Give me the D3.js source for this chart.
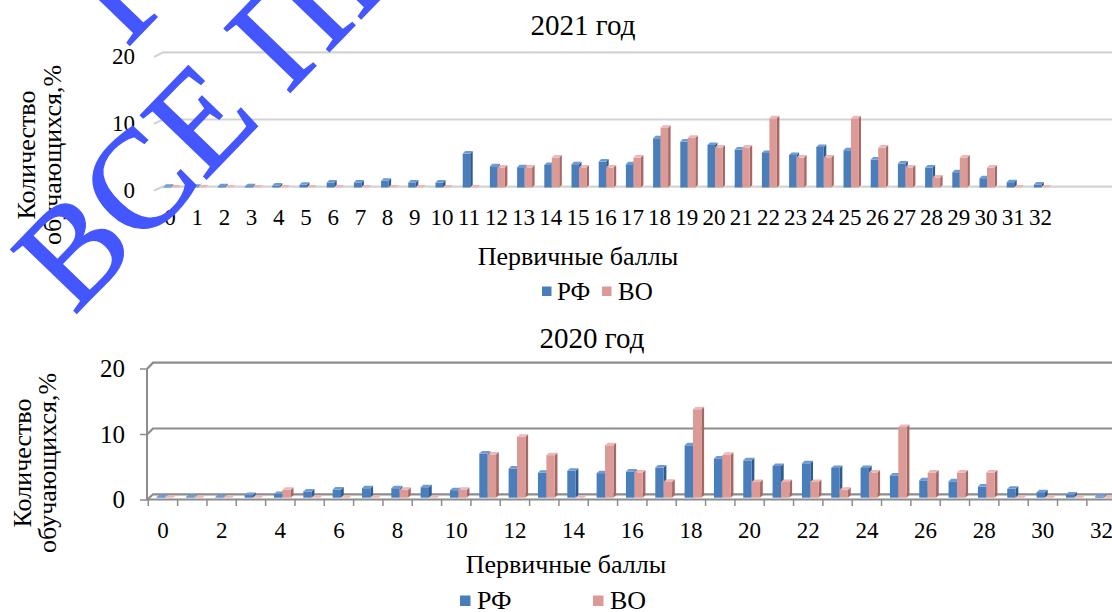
<!DOCTYPE html>
<html><head><meta charset="utf-8">
<script src="https://cdn.jsdelivr.net/npm/d3@7"></script>
<style>
html,body{margin:0;padding:0;background:#fff;}
svg{display:block;}
text{font-family:'Liberation Serif','Times New Roman','DejaVu Serif',serif;}
</style></head>
<body>
<svg id="c" width="1112" height="612" font-family="Liberation Serif, Times New Roman, DejaVu Serif, serif"></svg>
<script>
// ---- data ----
const categories = [0,1,2,3,4,5,6,7,8,9,10,11,12,13,14,15,16,17,18,19,20,21,22,23,24,25,26,27,28,29,30,31,32];
const seriesNames = ["РФ", "ВО"];
const rf2021 = [0.1,0.1,0.2,0.2,0.3,0.4,0.75,0.75,1.0,0.75,0.75,5.1,3.2,3.05,3.4,3.5,3.9,3.5,7.4,6.9,6.4,5.7,5.2,4.9,6.1,5.6,4.2,3.6,3.0,2.3,1.4,0.8,0.45];
const vo2021 = [0,0,0,0,0,0,0,0,0,0,0,0,3.0,3.0,4.5,3.0,3.0,4.5,9.0,7.5,6.0,6.0,10.4,4.5,4.5,10.4,6.0,3.0,1.5,4.5,3.0,0,0];
const rf2020 = [0.1,0.1,0.1,0.4,0.55,0.95,1.25,1.45,1.45,1.6,1.15,6.75,4.45,3.8,4.1,3.75,4.0,4.6,8.0,6.0,5.7,4.85,5.25,4.55,4.55,3.4,2.65,2.5,1.7,1.35,0.85,0.5,0.2];
const vo2020 = [0,0,0,0,1.2,0,0,0,1.2,0,1.2,6.6,9.3,6.5,0,8.0,3.85,2.45,13.5,6.55,2.4,2.4,2.4,1.2,3.85,10.8,3.85,3.85,3.85,0,0,0,0];
const yTicks = [0,10,20];
const xTicks2021 = categories;
const xTicks2020 = [0,2,4,6,8,10,12,14,16,18,20,22,24,26,28,30,32];
const titles = ["2021 год", "2020 год"];
const xTitle = "Первичные баллы";
const yTitle = ["Количество", "обучающихся,%"];
const watermark = ["ВСЕ ПРАВА ЗАЩИЩЕНЫ", "Г"];

const FONT = "Liberation Serif, Times New Roman, DejaVu Serif, serif";
const svg = d3.select("#c");
const blue = {front:"#4a7ebb", top:"#6e9bd6", side:"#2f5b90"};
const red  = {front:"#dc9a97", top:"#ecb8b6", side:"#a66866"};

function bar3d(g, x, w, yBase, yTop, dx, dy, col){
  g.append("polygon").attr("points",[[x+w,yTop],[x+w+dx,yTop-dy],[x+w+dx,yBase-dy],[x+w,yBase]].map(p=>p.join(",")).join(" ")).attr("fill",col.side);
  g.append("rect").attr("x",x).attr("y",yTop).attr("width",w).attr("height",Math.max(0,yBase-yTop)).attr("fill",col.front);
  g.append("polygon").attr("points",[[x,yTop],[x+w,yTop],[x+w+dx,yTop-dy],[x+dx,yTop-dy]].map(p=>p.join(",")).join(" ")).attr("fill",col.top);
}

function txt(g, s, x, y, size, anchor){
  return g.append("text").attr("x",x).attr("y",y).attr("font-family",FONT).attr("font-size",size)
    .attr("text-anchor",anchor||"middle").attr("fill","#000").text(s);
}

// ================= 2021 =================
(function(){
  const g = svg.append("g");
  const x = d3.scalePoint().domain(categories).range([170, 170+27.2*32]);
  const yBack = d3.scaleLinear().domain([0,20]).range([186.7, 52.3]);
  const yFront = d3.scaleLinear().domain([0,20]).range([190.5, 57]);
  const yBar = d3.scaleLinear().domain([0,20]).range([187.5, 54.5]);
  yTicks.forEach(t=>{
    g.append("path").attr("d",`M154,${yFront(t)}L163,${yBack(t)}L1112,${yBack(t)}`)
      .attr("fill","none").attr("stroke","#d3d3d3").attr("stroke-width",2.2);
    txt(g, t, 135, yFront(t)+7, 23, "end");
  });
  categories.forEach((c,i)=>{
    const cx = x(c);
    bar3d(g, cx-6.5, 7.5, yBar(0), yBar(rf2021[i]), 2.5, 2.5, blue);
    bar3d(g, cx+1, 7.5, yBar(0), yBar(vo2021[i]), 2.5, 2.5, red);
  });
  xTicks2021.forEach(c=> txt(g, c, x(c), 225, 23));
  txt(g, titles[0], 583, 35, 29);
  txt(g, xTitle, 578, 264.5, 26);
  g.append("rect").attr("x",542).attr("y",286.5).attr("width",9.5).attr("height",9.5).attr("fill",blue.front);
  txt(g, seriesNames[0], 557, 299.5, 25, "start");
  g.append("rect").attr("x",602).attr("y",286.5).attr("width",9.5).attr("height",9.5).attr("fill",red.front);
  txt(g, seriesNames[1], 618, 299.5, 25, "start");
  const yt = g.append("g").attr("transform","translate(35,155) rotate(-90)");
  txt(yt, yTitle[0], 0, 0, 26);
  const yt2 = g.append("g").attr("transform","translate(61,155) rotate(-90)");
  txt(yt2, yTitle[1], 0, 0, 26);
})();

// ================= 2020 =================
(function(){
  const g = svg.append("g");
  const x = d3.scaleBand().domain(categories).range([148.3, 148.3+29.33*33]).paddingInner(0).paddingOuter(0);
  const yBack = d3.scaleLinear().domain([0,20]).range([494.3, 362.7]);
  const yFront = d3.scaleLinear().domain([0,20]).range([500, 369]);
  const yBar = d3.scaleLinear().domain([0,20]).range([497.7, 366.7]);
  const grid = "#8c8c8c";
  yTicks.forEach(t=>{
    g.append("path").attr("d",`M147,${yFront(t)}L153,${yBack(t)}L1112,${yBack(t)}`)
      .attr("fill","none").attr("stroke",grid).attr("stroke-width",2.2);
    g.append("line").attr("x1",140).attr("x2",147).attr("y1",yFront(t)).attr("y2",yFront(t)).attr("stroke",grid).attr("stroke-width",1.5);
    txt(g, t, 125, yFront(t)+8, 25, "end");
  });
  g.append("line").attr("x1",147).attr("x2",147).attr("y1",yFront(20)).attr("y2",yFront(0)).attr("stroke",grid).attr("stroke-width",2);
  categories.forEach((c,i)=>{
    const cx = x(c) + x.bandwidth()/2;
    bar3d(g, cx-6.3, 8.4, yBar(0), yBar(rf2020[i]), 2.7, 2.5, blue);
    bar3d(g, cx+2.1, 8.4, yBar(0), yBar(vo2020[i]), 2.7, 2.5, red);
  });
  g.append("line").attr("x1",146).attr("x2",1112).attr("y1",499.5).attr("y2",499.5).attr("stroke",grid).attr("stroke-width",2.2);
  categories.concat([33]).forEach((c,i)=>{
    const bx = 148.3 + 29.33*i;
    g.append("line").attr("x1",bx).attr("x2",bx).attr("y1",499.5).attr("y2",506).attr("stroke",grid).attr("stroke-width",1.5);
  });
  xTicks2020.forEach(c=> txt(g, c, x(c)+x.bandwidth()/2, 538, 23));
  txt(g, titles[1], 592, 348, 29);
  txt(g, xTitle, 566, 573, 26);
  g.append("rect").attr("x",460).attr("y",595.5).attr("width",10.5).attr("height",10.5).attr("fill",blue.front);
  txt(g, seriesNames[0], 477, 609, 26, "start");
  g.append("rect").attr("x",593).attr("y",595.5).attr("width",10.5).attr("height",10.5).attr("fill",red.front);
  txt(g, seriesNames[1], 610, 609, 26, "start");
  const yt = g.append("g").attr("transform","translate(31,463) rotate(-90)");
  txt(yt, yTitle[0], 0, 0, 26);
  const yt2 = g.append("g").attr("transform","translate(56,463) rotate(-90)");
  txt(yt2, yTitle[1], 0, 0, 26);
})();

// ================= watermark =================
(function(){
  const g = svg.append("g");
  [[watermark[0], "translate(74,316) rotate(-46)"], [watermark[1], "translate(127,48) rotate(-46)"]].forEach(([s,tr])=>{
    g.append("text").attr("transform",tr).attr("font-family",FONT)
      .attr("font-size",140).attr("fill","#4456ff").attr("stroke","#4456ff").attr("stroke-width",1.5)
      .text(s);
  });
})();
</script>
</body></html>
